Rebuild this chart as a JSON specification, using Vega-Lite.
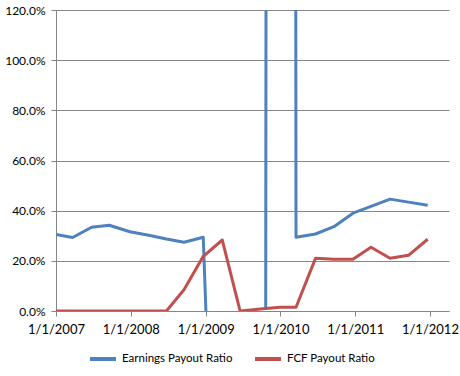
{
  "$schema": "https://vega.github.io/schema/vega-lite/v6.json",
  "width": 393,
  "height": 301,
  "autosize": {"type": "none"},
  "padding": {"left": 56, "top": 10, "right": 11, "bottom": 65},
  "background": "white",
  "config": {
    "view": {"stroke": null},
    "font": "Lato",
    "axis": {"labelFont": "Lato", "labelColor": "#000000", "labelFontSize": 13, "domainColor": "#868686", "tickColor": "#868686", "gridColor": "#868686", "gridOpacity": 1, "domainOpacity": 1, "titleFont": "Lato"},
    "legend": {"labelFont": "Lato", "labelFontSize": 11.5, "labelColor": "#000000"}
  },
  "data": {
    "values": [
      {"date": "2007-01-01", "series": "Earnings Payout Ratio", "value": 0.305},
      {"date": "2007-03-23", "series": "Earnings Payout Ratio", "value": 0.293},
      {"date": "2007-06-24", "series": "Earnings Payout Ratio", "value": 0.334},
      {"date": "2007-09-18", "series": "Earnings Payout Ratio", "value": 0.342},
      {"date": "2007-12-28", "series": "Earnings Payout Ratio", "value": 0.316},
      {"date": "2008-04-04", "series": "Earnings Payout Ratio", "value": 0.301},
      {"date": "2008-06-23", "series": "Earnings Payout Ratio", "value": 0.287},
      {"date": "2008-09-17", "series": "Earnings Payout Ratio", "value": 0.274},
      {"date": "2008-12-20", "series": "Earnings Payout Ratio", "value": 0.294},
      {"date": "2009-01-02", "series": "Earnings Payout Ratio", "value": 0.0},
      {"date": "2009-03-23", "series": "Earnings Payout Ratio", "value": null},
      {"date": "2009-06-18", "series": "Earnings Payout Ratio", "value": null},
      {"date": "2009-10-21", "series": "Earnings Payout Ratio", "value": 0.005},
      {"date": "2009-12-31", "series": "Earnings Payout Ratio", "value": 60},
      {"date": "2010-03-18", "series": "Earnings Payout Ratio", "value": 0.294},
      {"date": "2010-06-21", "series": "Earnings Payout Ratio", "value": 0.307},
      {"date": "2010-09-19", "series": "Earnings Payout Ratio", "value": 0.336},
      {"date": "2010-12-21", "series": "Earnings Payout Ratio", "value": 0.39},
      {"date": "2011-03-19", "series": "Earnings Payout Ratio", "value": 0.417},
      {"date": "2011-06-20", "series": "Earnings Payout Ratio", "value": 0.446},
      {"date": "2011-09-18", "series": "Earnings Payout Ratio", "value": 0.434},
      {"date": "2011-12-21", "series": "Earnings Payout Ratio", "value": 0.422},
      {"date": "2007-01-01", "series": "FCF Payout Ratio", "value": 0},
      {"date": "2007-03-23", "series": "FCF Payout Ratio", "value": 0},
      {"date": "2007-06-24", "series": "FCF Payout Ratio", "value": 0},
      {"date": "2007-09-18", "series": "FCF Payout Ratio", "value": 0},
      {"date": "2007-12-28", "series": "FCF Payout Ratio", "value": 0},
      {"date": "2008-04-04", "series": "FCF Payout Ratio", "value": 0},
      {"date": "2008-06-23", "series": "FCF Payout Ratio", "value": 0},
      {"date": "2008-09-17", "series": "FCF Payout Ratio", "value": 0.085},
      {"date": "2008-12-20", "series": "FCF Payout Ratio", "value": 0.218},
      {"date": "2009-03-23", "series": "FCF Payout Ratio", "value": 0.283},
      {"date": "2009-06-18", "series": "FCF Payout Ratio", "value": 0},
      {"date": "2009-10-21", "series": "FCF Payout Ratio", "value": 0.01},
      {"date": "2009-12-31", "series": "FCF Payout Ratio", "value": 0.015},
      {"date": "2010-03-18", "series": "FCF Payout Ratio", "value": 0.015},
      {"date": "2010-06-21", "series": "FCF Payout Ratio", "value": 0.21},
      {"date": "2010-09-19", "series": "FCF Payout Ratio", "value": 0.206},
      {"date": "2010-12-21", "series": "FCF Payout Ratio", "value": 0.206},
      {"date": "2011-03-19", "series": "FCF Payout Ratio", "value": 0.254},
      {"date": "2011-06-20", "series": "FCF Payout Ratio", "value": 0.21},
      {"date": "2011-09-18", "series": "FCF Payout Ratio", "value": 0.222},
      {"date": "2011-12-21", "series": "FCF Payout Ratio", "value": 0.286}
    ]
  },
  "mark": {"type": "line", "strokeWidth": 3, "clip": true, "strokeJoin": "round"},
  "encoding": {
    "x": {
      "field": "date",
      "type": "temporal",
      "scale": {"type": "utc", "domain": [{"year": 2007, "month": 1, "date": 1, "utc": true}, {"year": 2012, "month": 4, "date": 3, "utc": true}]},
      "axis": {
        "title": null,
        "labelExpr": "utcFormat(datum.value, '%-m/%-d/%Y')",
        "values": [
          {"year": 2007, "month": 1, "date": 1, "utc": true},
          {"year": 2008, "month": 1, "date": 1, "utc": true},
          {"year": 2009, "month": 1, "date": 1, "utc": true},
          {"year": 2010, "month": 1, "date": 1, "utc": true},
          {"year": 2011, "month": 1, "date": 1, "utc": true},
          {"year": 2012, "month": 1, "date": 1, "utc": true}
        ],
        "grid": false,
        "tickSize": 5,
        "labelPadding": 7,
        "labelFlush": false,
        "labelOverlap": false
      }
    },
    "y": {
      "field": "value",
      "type": "quantitative",
      "scale": {"domain": [0, 1.2], "nice": false, "zero": true},
      "axis": {
        "title": null,
        "format": ".1%",
        "values": [0, 0.2, 0.4, 0.6, 0.8, 1.0, 1.2],
        "grid": true,
        "tickSize": 5,
        "labelPadding": 6,
        "labelFontSize": 12
      }
    },
    "color": {
      "field": "series",
      "type": "nominal",
      "scale": {"domain": ["Earnings Payout Ratio", "FCF Payout Ratio"], "range": ["#4F81BD", "#C0504D"]},
      "legend": {
        "title": null,
        "orient": "none",
        "direction": "horizontal",
        "legendX": 32,
        "legendY": 334,
        "symbolType": "stroke",
        "symbolSize": 676,
        "symbolStrokeWidth": 4,
        "labelOffset": 4,
        "columnPadding": 14
      }
    }
  }
}
